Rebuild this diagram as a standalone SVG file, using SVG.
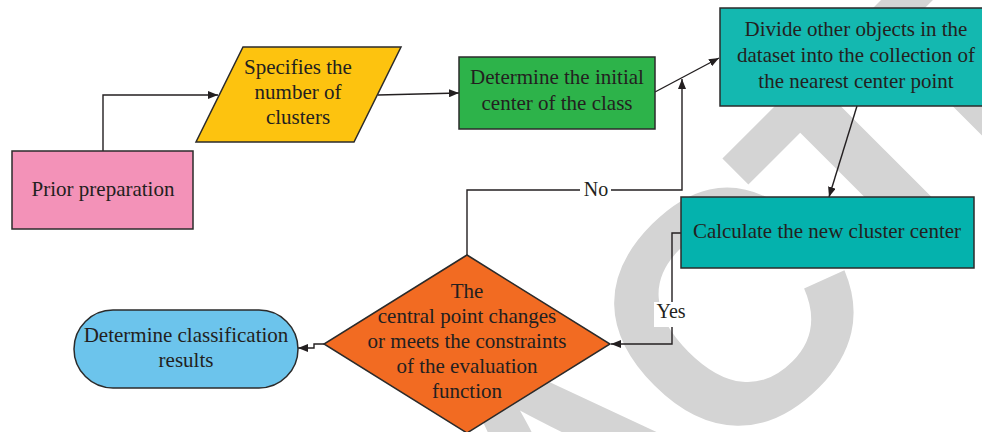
<svg xmlns="http://www.w3.org/2000/svg" width="982" height="432" viewBox="0 0 982 432">
  <defs>
    <marker id="arrow" viewBox="0 0 10 8" refX="10" refY="4" markerWidth="10" markerHeight="8" markerUnits="userSpaceOnUse" orient="auto">
      <path d="M0,0 L10,4 L0,8 Z" fill="#231f20"/>
    </marker>
    <style>
      .node { stroke: #2b2b2b; stroke-width: 1.5; }
      .label { font-family: "Liberation Serif", "Times New Roman", serif; font-size: 21px; fill: #231f20; text-anchor: middle; }
      .edge { fill: none; stroke: #231f20; stroke-width: 1.4; }
      .mark { font-family: "Liberation Sans", Arial, sans-serif; font-weight: bold; font-size: 330px; letter-spacing: -20px; fill: #d4d4d4; }
    </style>
  </defs>

  <rect width="982" height="432" fill="#ffffff"/>

  <!-- background stamp -->
  <text class="mark" x="-860" y="850" transform="rotate(-45)">RETRACTED</text>

  <!-- connectors -->
  <g id="connectors">
    <path class="edge" d="M103,151 V95 H218" marker-end="url(#arrow)"/>
    <path class="edge" d="M378,95 L459,93" marker-end="url(#arrow)"/>
    <path class="edge" d="M655,92 L719,58" marker-end="url(#arrow)"/>
    <path class="edge" d="M857,106 L829,197" marker-end="url(#arrow)"/>
    <path class="edge" d="M681,233 H672 V344 H611" marker-end="url(#arrow)"/>
    <path class="edge" d="M467,255 V190 H682 V79" marker-end="url(#arrow)"/>
    <path class="edge" d="M325,344 H314 V348 H298" marker-end="url(#arrow)"/>
    <rect x="580" y="181" width="31" height="20" fill="#ffffff"/>
    <text class="label" x="596" y="196" style="font-size:20px">No</text>
    <rect x="654" y="302" width="34" height="25" fill="#ffffff"/>
    <text class="label" x="671" y="318" style="font-size:20px">Yes</text>
  </g>

  <g id="prior">
    <rect class="node" x="12" y="151" width="181" height="78" fill="#f392b8"/>
    <text class="label" x="103" y="196">Prior preparation</text>
  </g>

  <g id="clusters">
    <polygon class="node" points="243,47 401,47 354,142 196,142" fill="#fdc30f"/>
    <text class="label" x="298" y="74">Specifies the</text>
    <text class="label" x="298" y="99">number of</text>
    <text class="label" x="298" y="124">clusters</text>
  </g>

  <g id="initial">
    <rect class="node" x="459" y="57" width="196" height="72" fill="#2db34a"/>
    <text class="label" x="557" y="84">Determine the initial</text>
    <text class="label" x="557" y="110">center of the class</text>
  </g>

  <g id="divide">
    <rect class="node" x="720" y="8" width="270" height="98" fill="#14b8b0"/>
    <text class="label" x="856" y="36">Divide other objects in the</text>
    <text class="label" x="856" y="62">dataset into the collection of</text>
    <text class="label" x="856" y="88">the nearest center point</text>
  </g>

  <g id="calculate">
    <rect class="node" x="681" y="197" width="293" height="71" fill="#04b2ad"/>
    <text class="label" x="827" y="238">Calculate the new cluster center</text>
  </g>

  <g id="decision">
    <polygon class="node" points="467,255 610,344 467,433 324,344" fill="#f26b22"/>
    <text class="label" x="467" y="298">The</text>
    <text class="label" x="467" y="323">central point changes</text>
    <text class="label" x="467" y="348">or meets the constraints</text>
    <text class="label" x="467" y="373">of the evaluation</text>
    <text class="label" x="467" y="398">function</text>
  </g>

  <g id="results">
    <rect class="node" x="74" y="310" width="224" height="78" rx="39" ry="39" fill="#6cc4ec"/>
    <text class="label" x="186" y="342">Determine classification</text>
    <text class="label" x="186" y="367">results</text>
  </g>
</svg>
